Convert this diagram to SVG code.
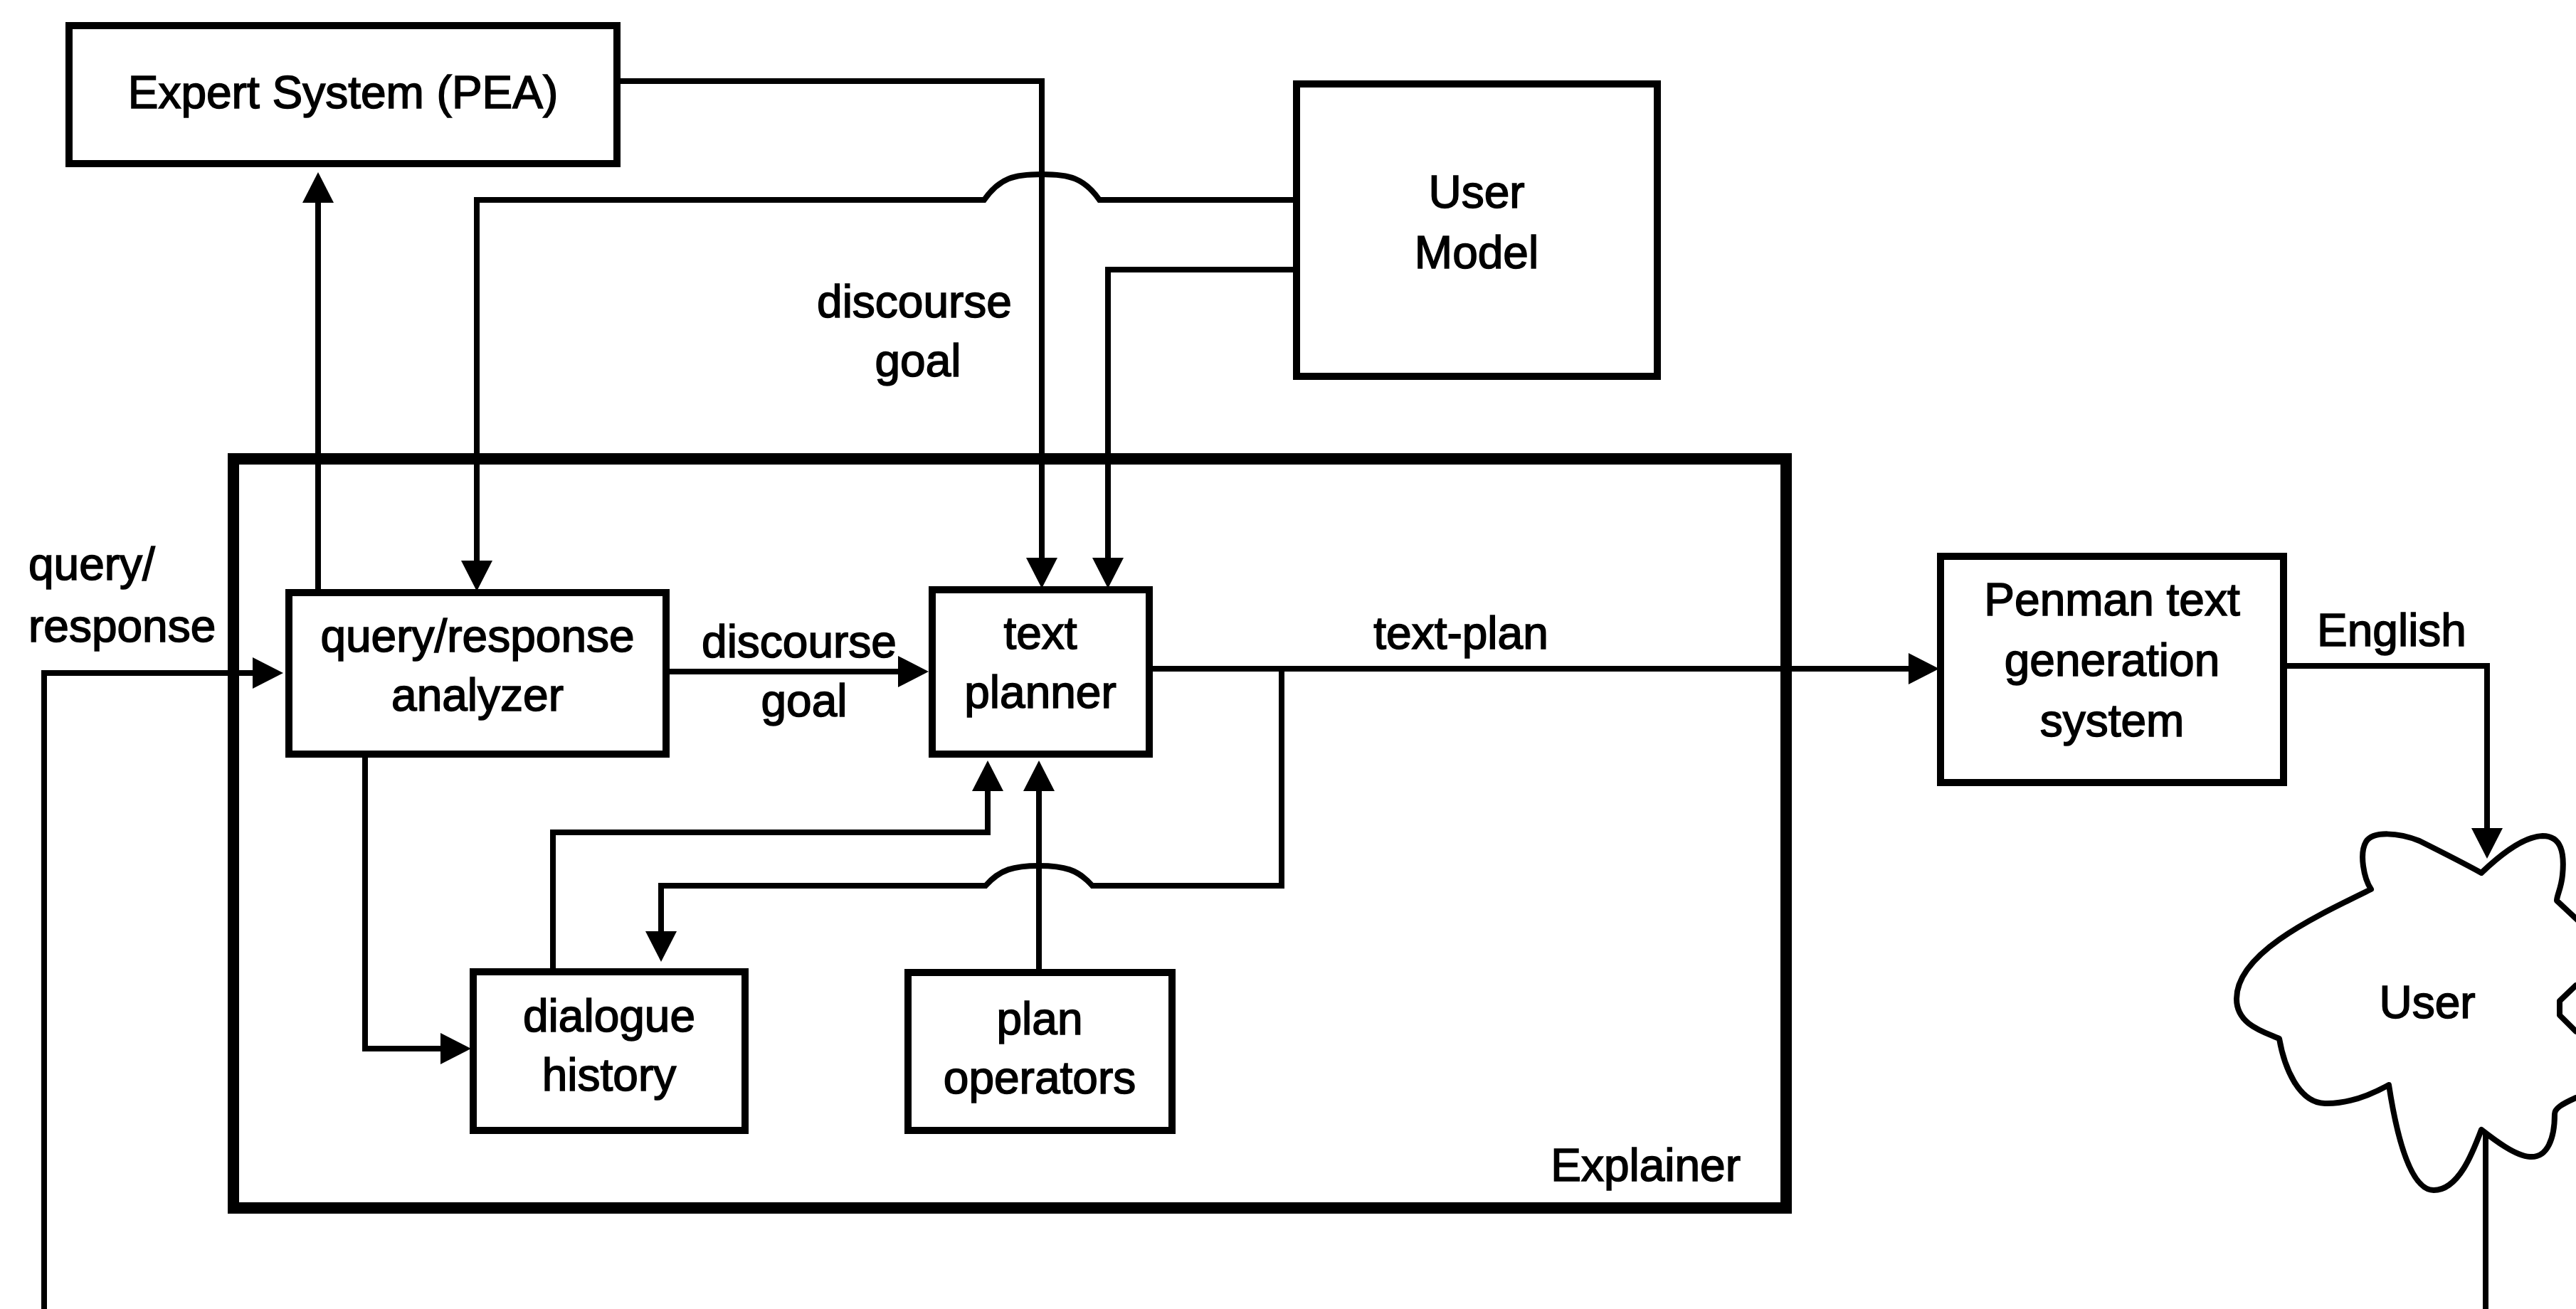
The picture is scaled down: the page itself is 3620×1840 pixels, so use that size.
<svg xmlns="http://www.w3.org/2000/svg" width="3620" height="1840" viewBox="0 0 3620 1840">
<style>
.box{fill:#fff;stroke:#000;stroke-width:10}
.frame{fill:none;stroke:#000;stroke-width:16}
.cn{fill:none;stroke:#000;stroke-width:8}
.t{font-family:"Liberation Sans",Arial,sans-serif;font-size:64px;fill:#000;stroke:#000;stroke-width:1.6;text-anchor:middle}
.l{text-anchor:start}
.r{text-anchor:end}
</style>
<defs>
<marker id="arr" markerUnits="userSpaceOnUse" markerWidth="46" markerHeight="46" refX="2" refY="22" orient="auto" overflow="visible">
<path d="M0,0 L43,22 L0,44 Z" fill="#000"/>
</marker>
</defs>
<rect width="3620" height="1840" fill="#fff"/>

<g id="explainer">
<rect class="frame" x="328" y="645" width="2182" height="1053"/>
<text class="t r" x="2446" y="1660">Explainer</text>
</g>

<g id="connectors">
<path class="cn" d="M447,833 V283" marker-end="url(#arr)"/>
<path class="cn" d="M867,114 H1464 V786" marker-end="url(#arr)"/>
<path class="cn" d="M1822,281 H1545 C1523,250 1503,245 1464,245 C1425,245 1405,250 1383,281 H670 V790" marker-end="url(#arr)"/>
<path class="cn" d="M1822,379 H1557 V786" marker-end="url(#arr)"/>
<path class="cn" d="M62,1840 V946 H357" marker-end="url(#arr)"/>
<path class="cn" d="M936,944 H1264" marker-end="url(#arr)"/>
<path class="cn" d="M513,1060 V1474 H621" marker-end="url(#arr)"/>
<path class="cn" d="M777,1366 V1170 H1388 V1110" marker-end="url(#arr)"/>
<path class="cn" d="M1460,1367 V1110" marker-end="url(#arr)"/>
<path class="cn" d="M1615,940 H2684" marker-end="url(#arr)"/>
<path class="cn" d="M1801,940 V1245 H1535 C1515,1222 1495,1217 1460,1217 C1425,1217 1405,1222 1385,1245 H929 V1311" marker-end="url(#arr)"/>
<path class="cn" d="M3209,936 H3495 V1166" marker-end="url(#arr)"/>
<path class="cn" d="M3493,1588 V1840"/>
<text class="t" x="1285" y="446">discourse</text>
<text class="t" x="1290" y="529">goal</text>
<text class="t l" x="40" y="815">query/</text>
<text class="t l" x="40" y="902">response</text>
<text class="t" x="1123" y="924">discourse</text>
<text class="t" x="1130" y="1007">goal</text>
<text class="t" x="2053" y="912">text-plan</text>
<text class="t" x="3361" y="908">English</text>
</g>

<g id="expert-system">
<rect class="box" x="97" y="36" width="770" height="194"/>
<text class="t" x="482" y="152">Expert System (PEA)</text>
</g>

<g id="user-model">
<rect class="box" x="1822" y="118" width="507" height="411"/>
<text class="t" x="2075" y="292">User</text>
<text class="t" x="2075" y="377">Model</text>
</g>

<g id="query-response-analyzer">
<rect class="box" x="406" y="833" width="530" height="227"/>
<text class="t" x="671" y="916">query/response</text>
<text class="t" x="671" y="999">analyzer</text>
</g>

<g id="text-planner">
<rect class="box" x="1310" y="829" width="305" height="231"/>
<text class="t" x="1462" y="912">text</text>
<text class="t" x="1462" y="995">planner</text>
</g>

<g id="dialogue-history">
<rect class="box" x="665" y="1366" width="382" height="223"/>
<text class="t" x="856" y="1450">dialogue</text>
<text class="t" x="856" y="1533">history</text>
</g>

<g id="plan-operators">
<rect class="box" x="1276" y="1367" width="371" height="222"/>
<text class="t" x="1461" y="1454">plan</text>
<text class="t" x="1461" y="1537">operators</text>
</g>

<g id="penman">
<rect class="box" x="2727" y="782" width="482" height="318"/>
<text class="t" x="2968" y="865">Penman text</text>
<text class="t" x="2968" y="950">generation</text>
<text class="t" x="2968" y="1035">system</text>
</g>

<g id="user">
<path fill="#fff" stroke="#000" stroke-width="8" stroke-linejoin="round" d="M3487,1227 C3510,1205 3545,1176 3573,1175 C3600,1175 3604,1200 3601,1230 C3599,1250 3593,1258 3593,1266 L3625,1296 L3670,1300 L3670,1380 L3620,1385 L3597,1407 L3597,1427 L3620,1450 L3670,1455 L3670,1538 L3620,1543 C3600,1552 3590,1558 3590,1566 C3590,1600 3580,1628 3555,1626 C3535,1625 3505,1602 3487,1588 C3475,1620 3455,1673 3420,1673 C3390,1673 3370,1610 3357,1525 C3330,1540 3300,1552 3267,1551 C3230,1550 3210,1500 3203,1460 C3180,1450 3143,1440 3143,1404 C3143,1340 3250,1290 3332,1250 C3322,1235 3315,1200 3325,1183 C3335,1168 3370,1170 3400,1182 C3420,1192 3460,1212 3487,1227 Z"/>
<text class="t" x="3411" y="1431">User</text>
</g>
</svg>
